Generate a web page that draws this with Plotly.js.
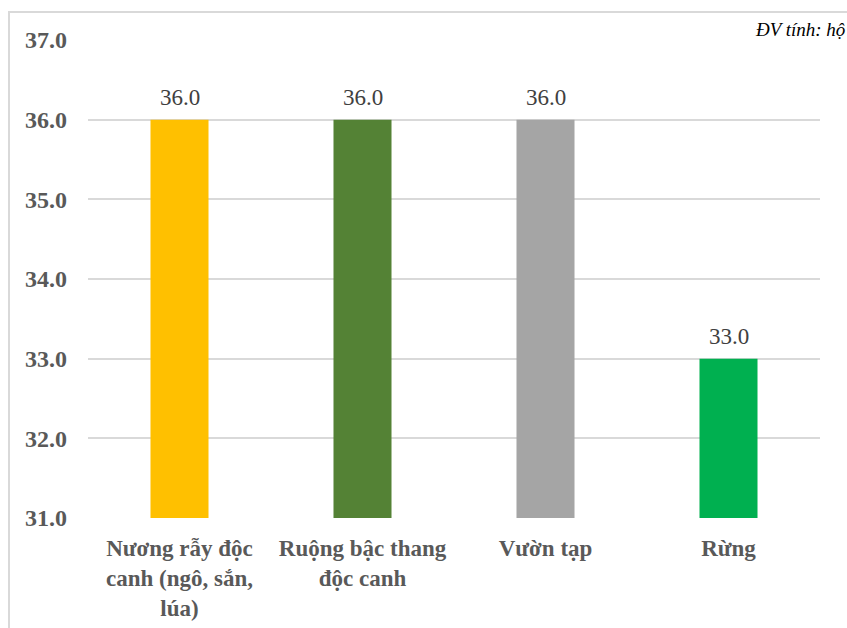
<!DOCTYPE html>
<html><head><meta charset="utf-8">
<script src="https://cdn.plot.ly/plotly-3.0.1.min.js"></script>
<style>
html,body{margin:0;padding:0;background:#fff;font-family:"Liberation Serif";}
#wrap{position:relative;width:847px;height:628px;overflow:hidden;}
#chart{position:absolute;left:0;top:0;width:847px;height:628px;}
#frame{position:absolute;left:8px;top:11px;width:900px;height:700px;border-left:2px solid #d9d9d9;border-top:2px solid #d9d9d9;pointer-events:none;}
#pre{position:absolute;left:0;top:0;color:#fff;font-size:2px;}
.modebar-container,.modebar{display:none !important;}
</style></head>
<body><div id="wrap"><div id="pre"><b>36.0</b> <i>hộ</i> 36.0</div><div id="chart"></div><div id="frame"></div></div>
<script>
const categories = ["Nương rẫy độc<br>canh (ngô, sắn,<br>lúa)", "Ruộng bậc thang<br>độc canh", "Vườn tạp", "Rừng"];
const values = [36.0, 36.0, 36.0, 33.0];
const barColors = ["#FFC000", "#548235", "#A5A5A5", "#00B050"];
const yTicks = [31, 32, 33, 34, 35, 36, 37];
const unitNote = "ĐV tính: hộ";

const serif = "Liberation Serif";
const floor = 31;
const trace = {
  type: "bar", x: categories, y: values.map(v => v - floor), base: floor,
  marker: {color: barColors},
  width: 0.317,
  hoverinfo: "none"
};
const labels = values.map((v, i) => ({
  x: categories[i], y: v, xref: "x", yref: "y", text: v.toFixed(1), showarrow: false,
  yanchor: "bottom", yshift: 8, font: {family: serif, size: 23, color: "#404040"}
}));
const layout = {
  width: 847, height: 628,
  font: {family: serif},
  margin: {l: 88, r: 27, t: 40, b: 110},
  paper_bgcolor: "#fff", plot_bgcolor: "#fff",
  showlegend: false,
  xaxis: {showline: false, ticks: "", tickfont: {family: serif, size: 23, color: "#595959", weight: "bold"}, tickangle: 0, automargin: false, ticklabelstandoff: 14},
  yaxis: {range: [31, 37], tickvals: yTicks, ticktext: yTicks.map(v => v.toFixed(1)), showgrid: true, gridcolor: "#d9d9d9", gridwidth: 1.5,
          zeroline: false, showline: false, ticks: "", ticklabelstandoff: 20,
          tickfont: {family: serif, size: 24, color: "#595959", weight: "bold"}, automargin: false},
  annotations: labels.concat([{xref: "paper", yref: "paper", x: 1.037, y: 1.0, xanchor: "right", yanchor: "bottom", yshift: -2,
    text: "<i>" + unitNote + "</i>", showarrow: false, font: {family: serif, size: 19, color: "#000"}}])
};
Plotly.newPlot("chart", [trace], layout);
</script></body></html>
